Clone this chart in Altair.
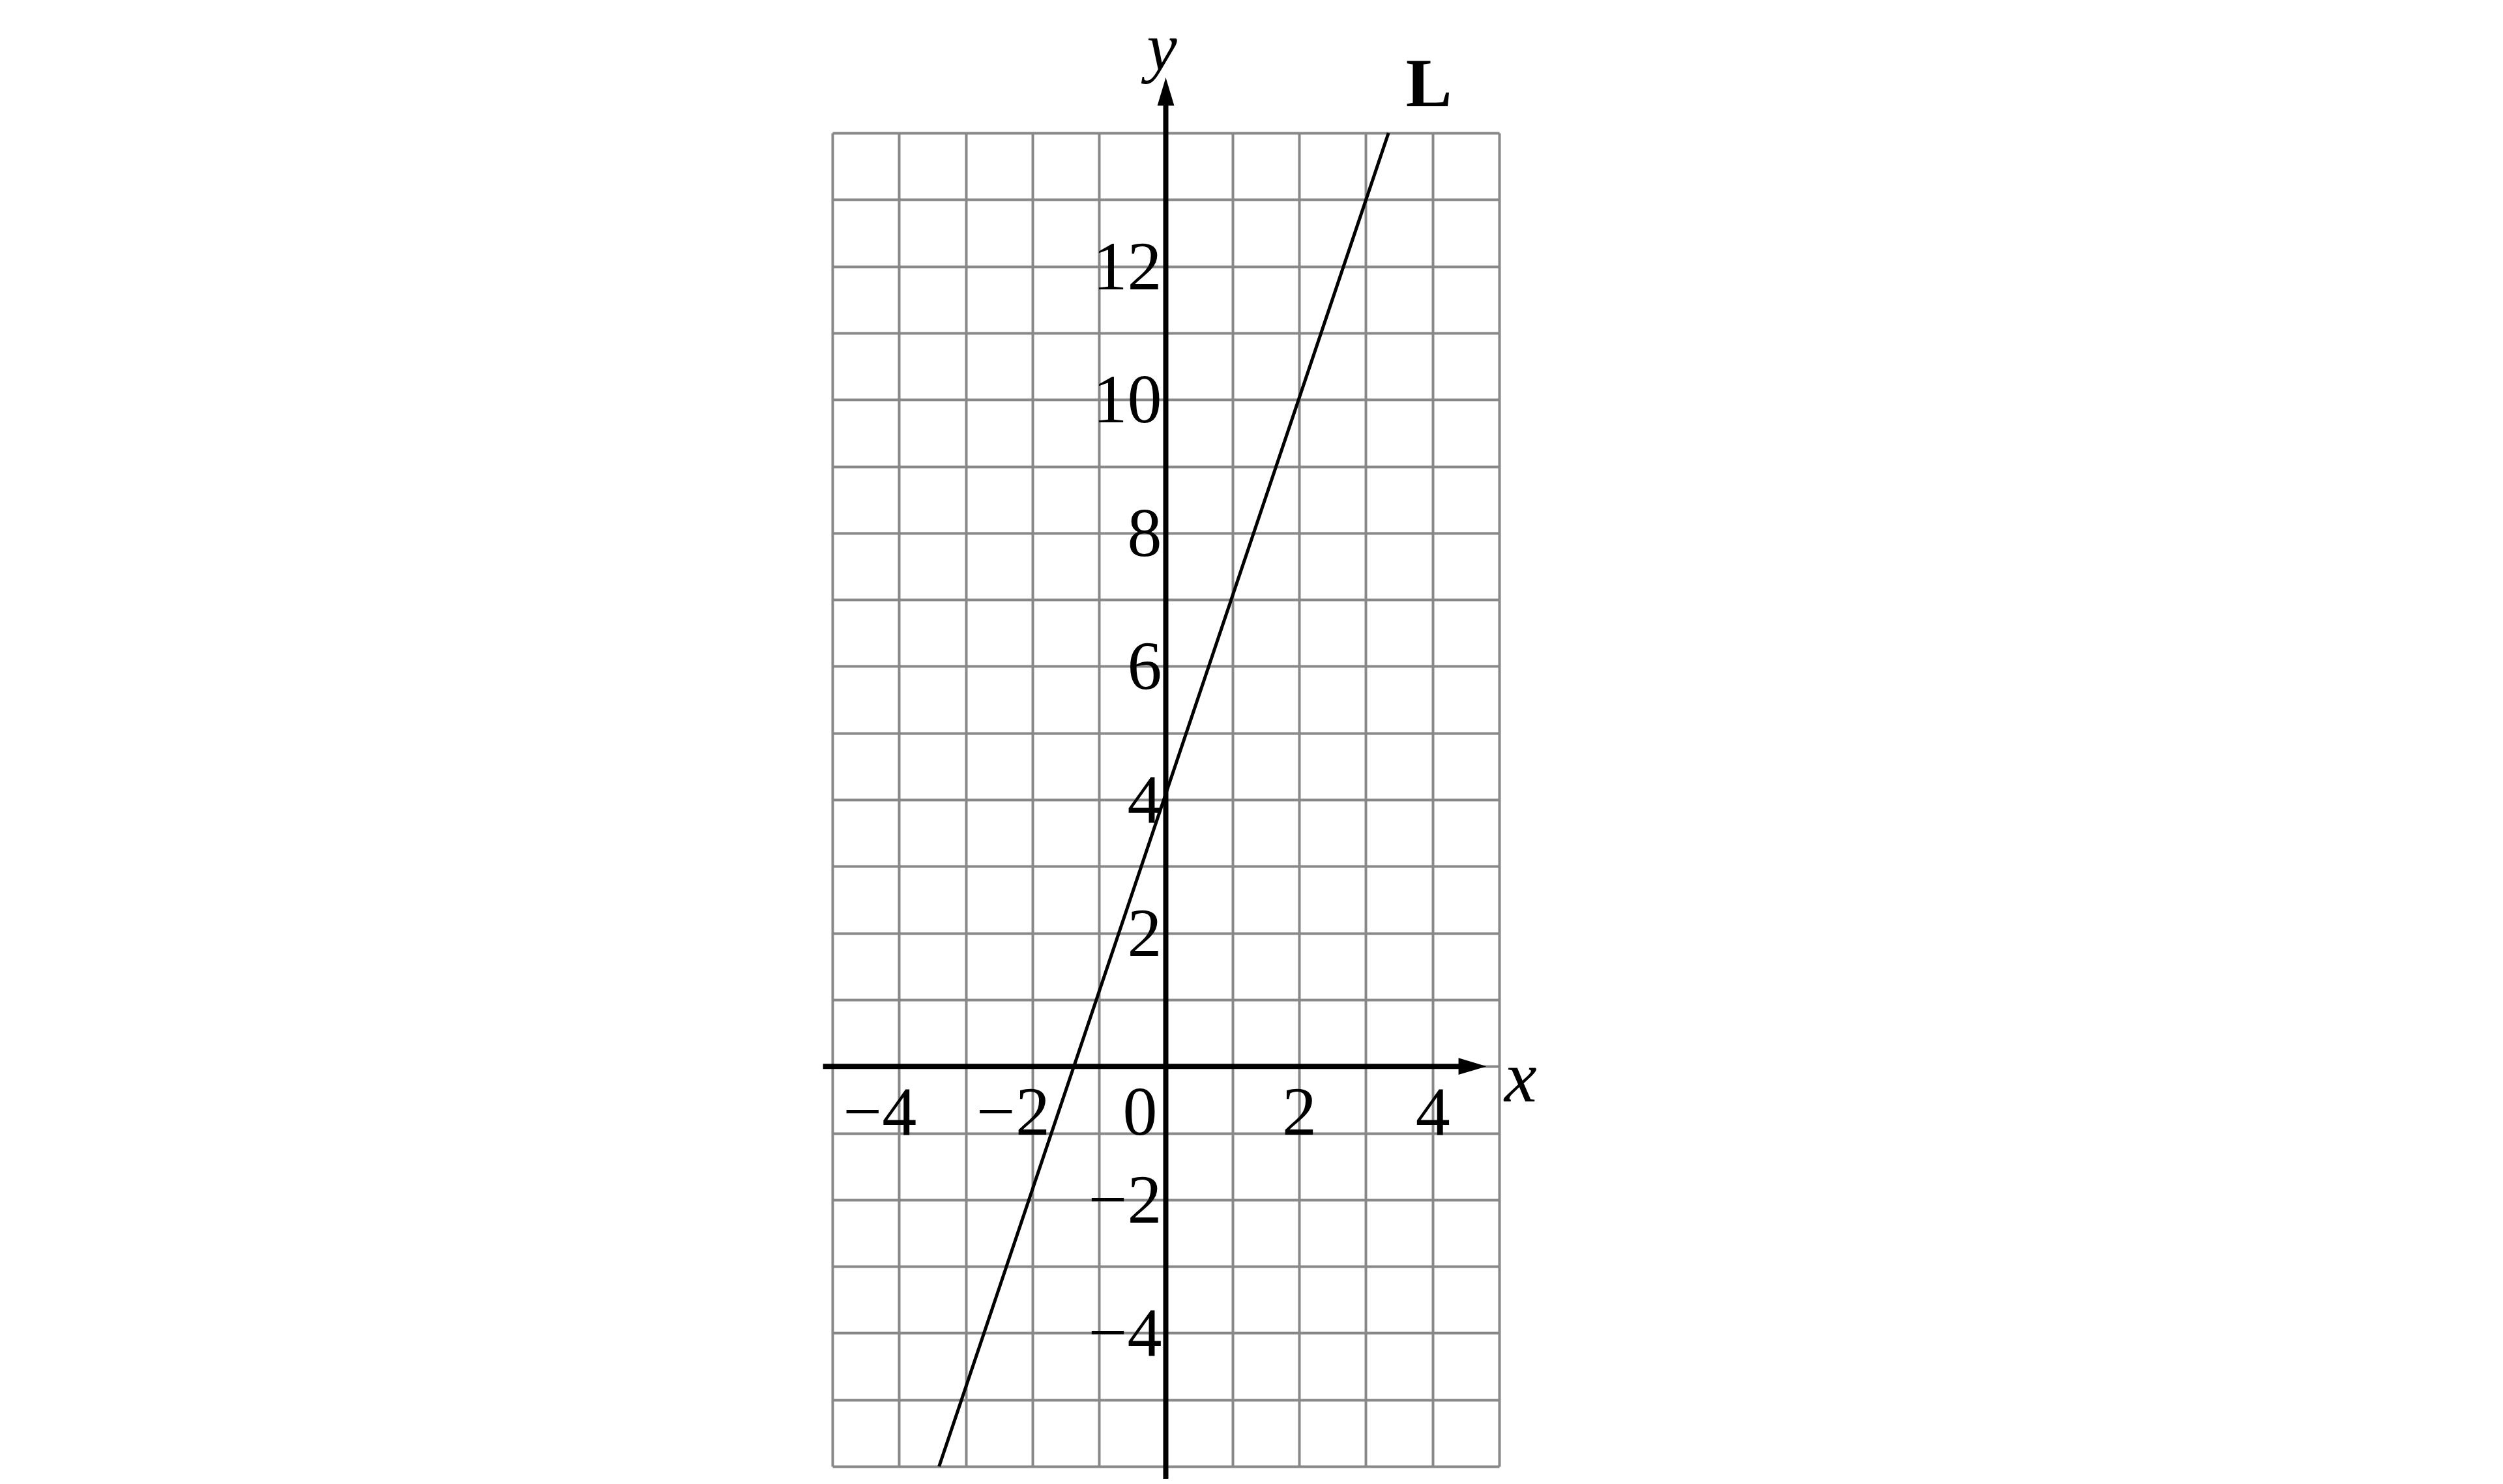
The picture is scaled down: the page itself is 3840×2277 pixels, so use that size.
import altair as alt
import pandas as pd

# grid lines (every unit)
x_grid = [-5, -4, -3, -2, -1, 0, 1, 2, 3, 4, 5]
y_grid = [-6, -5, -4, -3, -2, -1, 0, 1, 2, 3, 4, 5, 6, 7, 8, 9, 10, 11, 12, 13, 14]

# tick labels
x_label_vals = [-4, -2, 2, 4]
y_label_vals = [-4, -2, 2, 4, 6, 8, 10, 12]

# line L : endpoints
line_x = [-3.4, 3.34]
line_y = [-6, 14]

FONT = "Liberation Serif"
GRID = "#888888"
FS = 106


def lab(v):
    return str(v).replace("-", "\u2212")


df_line = pd.DataFrame({"x": line_x, "y": line_y})
df_xl = pd.DataFrame({"v": x_label_vals, "lab": [lab(v) for v in x_label_vals]})
df_yl = pd.DataFrame({"v": y_label_vals, "lab": [lab(v) for v in y_label_vals]})

xscale = alt.Scale(domain=[-5, 5], nice=False, zero=False)
yscale = alt.Scale(domain=[-6, 14], nice=False, zero=False)

line = alt.Chart(df_line).mark_line(color="black", strokeWidth=5).encode(
    x=alt.X("x:Q", scale=xscale,
            axis=alt.Axis(values=x_grid, grid=True, gridColor=GRID, gridWidth=4,
                          gridOpacity=1, labels=False, ticks=False, domain=False,
                          title=None)),
    y=alt.Y("y:Q", scale=yscale,
            axis=alt.Axis(values=y_grid, grid=True, gridColor=GRID, gridWidth=4,
                          gridOpacity=1, labels=False, ticks=False, domain=False,
                          title=None)),
)

x_axis = alt.Chart().mark_rule(color="black", strokeWidth=8).encode(
    x=alt.datum(-5.14), x2=alt.datum(4.6), y=alt.datum(0)
)
y_axis = alt.Chart().mark_rule(color="black", strokeWidth=8).encode(
    x=alt.datum(0), y=alt.datum(-6.4), y2=alt.datum(14.41)
)
x_arrow = alt.Chart().mark_point(
    shape="M-1,-0.6L1,0L-1,0.6Z", filled=True, size=1849, color="black",
    opacity=1, strokeWidth=0
).encode(x=alt.datum(4.6), y=alt.datum(0))
y_arrow = alt.Chart().mark_point(
    shape="M-0.6,1L0,-1L0.6,1Z", filled=True, size=1849, color="black",
    opacity=1, strokeWidth=0
).encode(x=alt.datum(0), y=alt.datum(14.62))

x_labels = alt.Chart(df_xl).mark_text(
    font=FONT, fontSize=FS, align="right", baseline="alphabetic", dx=27, dy=105,
    color="black"
).encode(x="v:Q", y=alt.datum(0), text="lab:N")

zero_label = alt.Chart().mark_text(
    font=FONT, fontSize=FS, align="right", baseline="alphabetic", dx=-13, dy=105,
    color="black", text="0"
).encode(x=alt.datum(0), y=alt.datum(0))

y_labels = alt.Chart(df_yl).mark_text(
    font=FONT, fontSize=FS, align="right", baseline="middle", dx=-6, dy=3,
    color="black"
).encode(x=alt.datum(0), y="v:Q", text="lab:N")

y_title = alt.Chart().mark_text(
    font=FONT, fontSize=104, fontStyle="italic", align="center",
    baseline="alphabetic", color="black", text="y"
).encode(x=alt.datum(0), y=alt.value(-97), xOffset=alt.value(-6))

x_title = alt.Chart().mark_text(
    font=FONT, fontSize=112, fontStyle="italic", align="left",
    baseline="alphabetic", color="black", text="x"
).encode(x=alt.value(1031), y=alt.value(1486))

l_label = alt.Chart().mark_text(
    font=FONT, fontSize=106, fontWeight="bold", align="center",
    baseline="alphabetic", color="black", text="L"
).encode(x=alt.value(915), y=alt.value(-41))

chart = alt.layer(
    line, x_axis, y_axis, x_arrow, y_arrow, x_labels, zero_label, y_labels,
    y_title, x_title, l_label
).properties(
    width=1023, height=2046,
    padding={"left": 1269, "top": 196, "right": 250, "bottom": 19},
    autosize=alt.AutoSizeParams(type="none"),
    background="white",
).configure_view(strokeWidth=0)

chart.save("out.html", embed_options={"renderer": "svg", "actions": False})
